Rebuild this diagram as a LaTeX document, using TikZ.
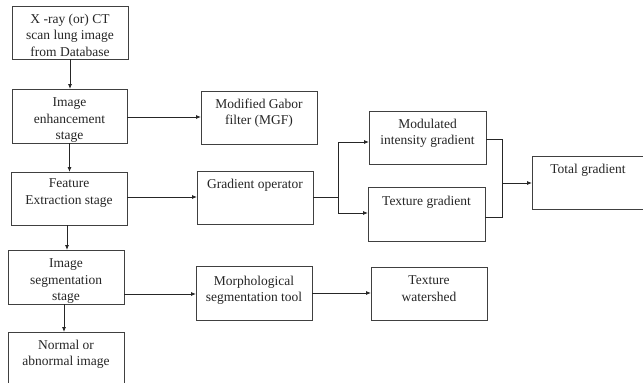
\documentclass[tikz,border=0pt]{standalone}
\usepackage{fontspec}
\setmainfont{Liberation Serif}
\usetikzlibrary{arrows.meta,calc}
\begin{document}
\begin{tikzpicture}[x=1pt,y=-1pt,
  box/.style={draw=black!75,line width=0.8pt,rectangle,inner sep=0pt,outer sep=0pt},
  txt/.style={inner sep=0pt,align=center,text=black!85,font=\fontsize{13.5}{16.7}\selectfont,anchor=north,yshift=-1.5pt},
  conn/.style={draw=black!85,line width=0.8pt},
  arr/.style={conn,-{Latex[length=5pt,width=4pt]}}]
\useasboundingbox (0,0) rectangle (643,383);
\fill[white] (0,0) rectangle (643,383);
% boxes
\newcommand{\mybox}[5]{% name, x1,y1,x2,y2
  \node[box,minimum width={(#4-#2)*1pt},minimum height={(#5-#3)*1pt}] (#1) at ({(#2+#4)/2},{(#3+#5)/2}) {};}
\mybox{b1}{12}{6}{128}{59}
\mybox{b2}{12}{89}{127}{143}
\mybox{b3}{11}{172}{127}{225}
\mybox{b4}{8}{250}{124}{304}
\mybox{b5}{8}{332}{124}{400}
\mybox{mgf}{201}{91}{317}{144}
\mybox{go}{197}{171}{313}{224}
\mybox{mod}{369}{111}{486}{164}
\mybox{tex}{368}{187}{485}{241}
\mybox{tot}{532}{156}{660}{209}
\mybox{mor}{196}{266}{312}{320}
\mybox{tw}{371}{267}{487}{320}
% texts
\node[txt] (t1) at (70,12) {X -ray (or) CT\\scan lung image\\from Database};
\node[txt] (t2) at (69.5,96) {Image\\enhancement\\stage};
\node[txt] (t3) at (69,177) {Feature\\Extraction stage};
\node[txt] (t4) at (66,257) {Image\\segmentation\\stage};
\node[txt] (t5) at (66,338) {Normal or\\abnormal image};
\node[txt] (t6) at (259,97) {Modified Gabor\\filter (MGF)};
\node[txt] (t7) at (255,177) {Gradient operator};
\node[txt] (t8) at (427.5,117) {Modulated\\intensity gradient};
\node[txt] (t9) at (426.5,194) {Texture gradient};
\node[txt] (t10) at (588,162) {Total gradient};
\node[txt] (t11) at (254,274) {Morphological\\segmentation tool};
\node[txt] (t12) at (429,274) {Texture\\watershed};
% coordinates
\coordinate (split) at (338,197);
\coordinate (join) at (502,183);
% connectors
\draw[arr] (b1.south) -- (b1.south |- b2.north);
\draw[arr] (b2.south) -- (b2.south |- b3.north);
\draw[arr] ([xshift=-2pt]b3.south) -- ([xshift=-2pt]b3.south |- b4.north);
\draw[arr] ([xshift=-2pt]b4.south) -- ([xshift=-2pt]b4.south |- b5.north);
\draw[arr] (b2.east |- 0,117) -- (mgf.west |- 0,117);
\draw[arr] (b3.east |- 0,197) -- (go.west |- 0,197);
\draw[conn] (go.east |- split) -- (split);
\draw[arr] (split) |- (mod.west |- 0,142);
\draw[arr] (split) |- (tex.west |- 0,213);
\draw[conn] (mod.east |- 0,139) -| (join);
\draw[conn] (tex.east |- 0,217) -| (join);
\draw[arr] (join) -- (tot.west |- join);
\draw[arr] (b4.east |- 0,294) -- (mor.west |- 0,294);
\draw[arr] (mor.east |- 0,293) -- (tw.west |- 0,293);
\end{tikzpicture}
\end{document}
